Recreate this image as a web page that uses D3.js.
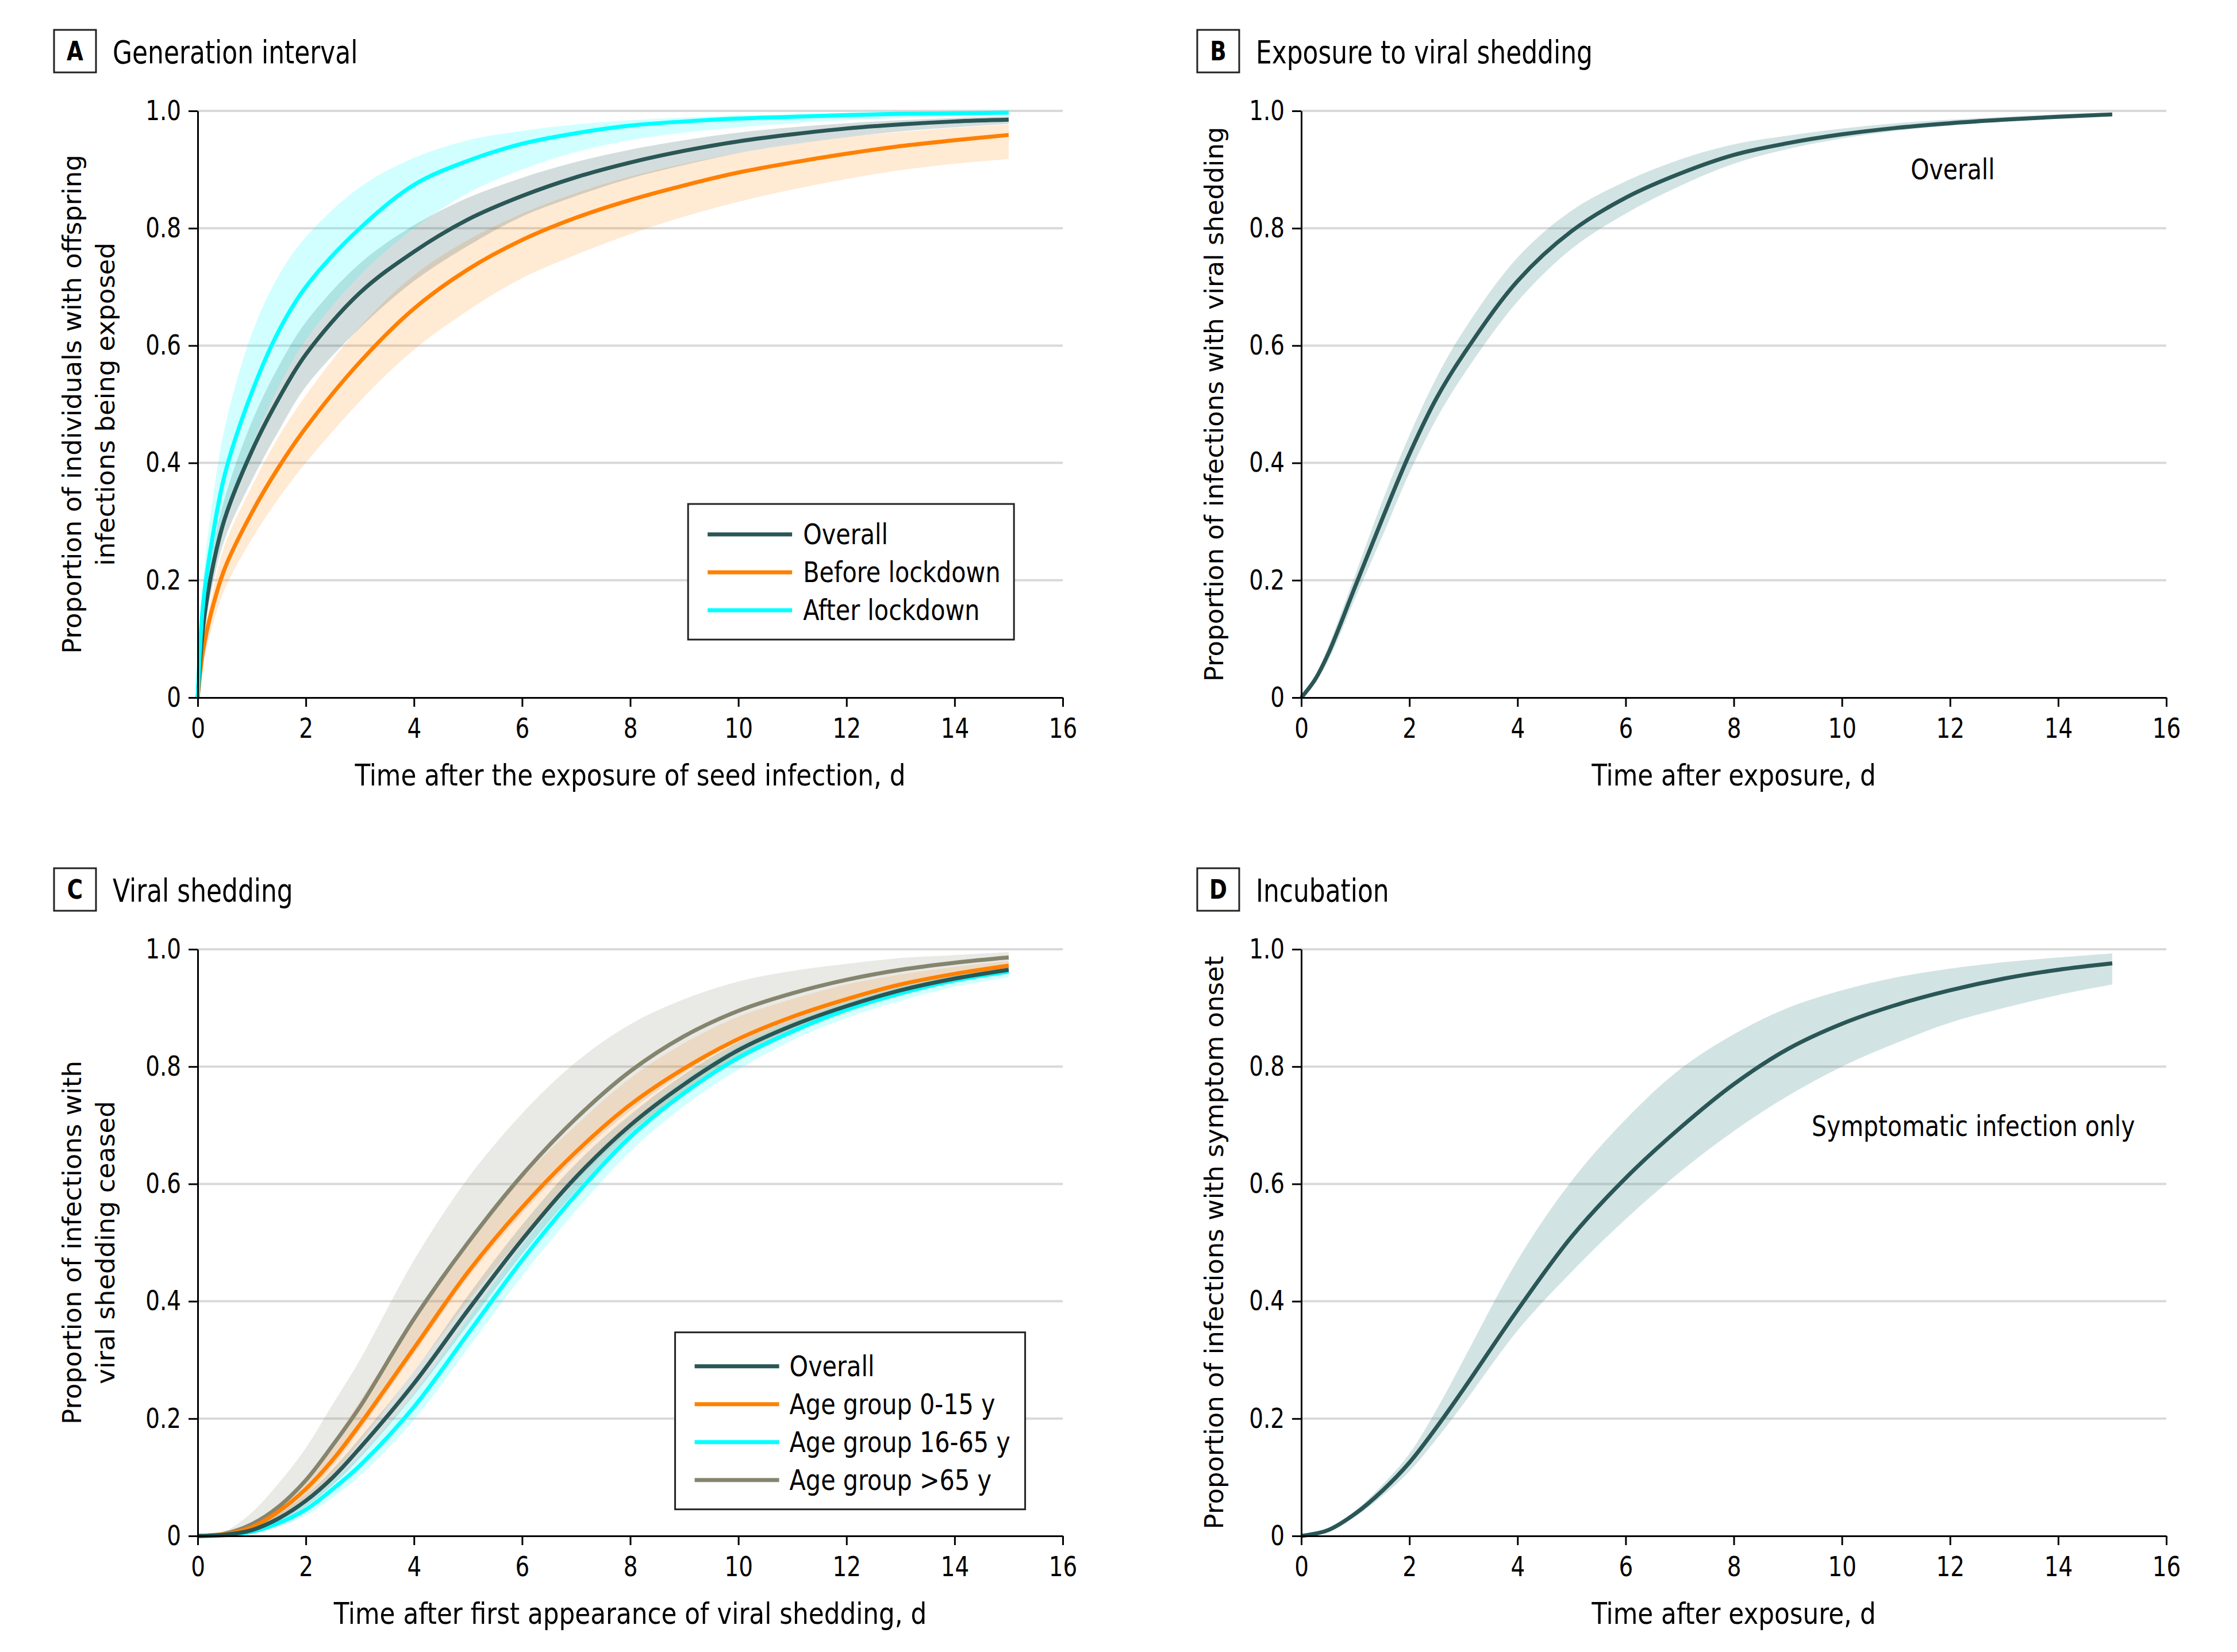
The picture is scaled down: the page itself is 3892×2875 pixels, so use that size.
<!DOCTYPE html>
<html><head><meta charset="utf-8">
<script src="https://cdn.jsdelivr.net/npm/d3@7"></script>
<style>body{margin:0;background:#fff}</style>
</head><body>
<script>
// ---------- DATA ----------
const xTicks = [0, 2, 4, 6, 8, 10, 12, 14, 16];
const yTicks = [0, 0.2, 0.4, 0.6, 0.8, 1.0];

// Panel A: Generation interval
const daysA = [0, 0.1, 0.25, 0.5, 1, 1.5, 2, 3, 4, 5, 6, 7, 8, 9, 10, 11, 12, 13, 14, 15];
const aOverall    = [0, 0.12, 0.21, 0.305, 0.42, 0.51, 0.585, 0.69, 0.76, 0.815, 0.855, 0.887, 0.912, 0.932, 0.948, 0.96, 0.97, 0.977, 0.982, 0.985];
const aOverallLo  = [0, 0.10, 0.18, 0.27, 0.37, 0.455, 0.53, 0.63, 0.71, 0.77, 0.82, 0.855, 0.885, 0.908, 0.928, 0.943, 0.955, 0.965, 0.972, 0.978];
const aOverallHi  = [0, 0.14, 0.24, 0.34, 0.47, 0.565, 0.64, 0.74, 0.805, 0.852, 0.886, 0.913, 0.934, 0.95, 0.963, 0.972, 0.979, 0.984, 0.988, 0.991];
const aBefore     = [0, 0.08, 0.145, 0.22, 0.315, 0.393, 0.46, 0.572, 0.663, 0.73, 0.78, 0.818, 0.848, 0.873, 0.895, 0.912, 0.927, 0.94, 0.95, 0.959];
const aBeforeLo   = [0, 0.06, 0.115, 0.185, 0.27, 0.34, 0.40, 0.505, 0.593, 0.66, 0.715, 0.755, 0.79, 0.82, 0.845, 0.866, 0.884, 0.899, 0.91, 0.918];
const aBeforeHi   = [0, 0.10, 0.17, 0.26, 0.36, 0.445, 0.515, 0.632, 0.72, 0.78, 0.825, 0.86, 0.888, 0.91, 0.928, 0.943, 0.955, 0.964, 0.971, 0.977];
const aAfter      = [0, 0.16, 0.26, 0.38, 0.52, 0.625, 0.70, 0.80, 0.874, 0.915, 0.944, 0.962, 0.975, 0.982, 0.987, 0.99, 0.993, 0.995, 0.996, 0.997];
const aAfterLo    = [0, 0.12, 0.20, 0.30, 0.43, 0.53, 0.61, 0.72, 0.80, 0.86, 0.90, 0.93, 0.95, 0.963, 0.972, 0.979, 0.984, 0.988, 0.991, 0.993];
const aAfterHi    = [0, 0.20, 0.32, 0.46, 0.62, 0.72, 0.785, 0.87, 0.92, 0.95, 0.966, 0.977, 0.984, 0.989, 0.992, 0.994, 0.996, 0.997, 0.998, 0.999];

// Panel B: Exposure to viral shedding
const daysB = [0, 0.25, 0.5, 1, 1.5, 2, 2.5, 3, 4, 5, 6, 7, 8, 9, 10, 11, 12, 13, 14, 15];
const bOverall   = [0, 0.03, 0.075, 0.19, 0.305, 0.415, 0.51, 0.585, 0.71, 0.795, 0.852, 0.893, 0.925, 0.945, 0.96, 0.971, 0.979, 0.985, 0.99, 0.994];
const bOverallLo = [0, 0.025, 0.063, 0.17, 0.275, 0.383, 0.475, 0.55, 0.675, 0.765, 0.825, 0.872, 0.91, 0.935, 0.953, 0.966, 0.975, 0.982, 0.987, 0.991];
const bOverallHi = [0, 0.035, 0.087, 0.21, 0.335, 0.447, 0.545, 0.625, 0.75, 0.83, 0.88, 0.917, 0.943, 0.958, 0.97, 0.979, 0.985, 0.99, 0.994, 0.997];

// Panel C: Viral shedding
const daysC = [0, 0.5, 1, 1.5, 2, 2.5, 3, 4, 5, 6, 7, 8, 9, 10, 11, 12, 13, 14, 15];
const cOverall   = [0, 0.002, 0.01, 0.03, 0.06, 0.10, 0.15, 0.26, 0.385, 0.505, 0.612, 0.70, 0.77, 0.828, 0.87, 0.903, 0.93, 0.95, 0.965];
const cOverallLo = [0, 0.001, 0.007, 0.024, 0.05, 0.087, 0.133, 0.24, 0.36, 0.48, 0.588, 0.68, 0.752, 0.813, 0.858, 0.893, 0.921, 0.943, 0.958];
const cOverallHi = [0, 0.003, 0.014, 0.037, 0.07, 0.114, 0.167, 0.28, 0.41, 0.53, 0.635, 0.718, 0.787, 0.842, 0.882, 0.913, 0.938, 0.956, 0.97];
const cAge0      = [0, 0.003, 0.015, 0.042, 0.08, 0.13, 0.19, 0.32, 0.45, 0.56, 0.655, 0.735, 0.797, 0.847, 0.885, 0.915, 0.94, 0.958, 0.972];
const cAge0Lo    = [0, 0.002, 0.01, 0.03, 0.06, 0.105, 0.16, 0.28, 0.40, 0.51, 0.605, 0.69, 0.755, 0.81, 0.855, 0.89, 0.92, 0.945, 0.962];
const cAge0Hi    = [0, 0.005, 0.022, 0.055, 0.10, 0.16, 0.23, 0.37, 0.50, 0.61, 0.70, 0.78, 0.84, 0.885, 0.915, 0.94, 0.957, 0.97, 0.98];
const cAge16     = [0, 0.001, 0.007, 0.022, 0.045, 0.08, 0.12, 0.22, 0.345, 0.47, 0.582, 0.68, 0.755, 0.815, 0.86, 0.897, 0.925, 0.947, 0.962];
const cAge16Lo   = [0, 0.0, 0.005, 0.016, 0.035, 0.066, 0.103, 0.198, 0.32, 0.443, 0.555, 0.655, 0.733, 0.795, 0.845, 0.883, 0.912, 0.936, 0.952];
const cAge16Hi   = [0, 0.002, 0.01, 0.028, 0.055, 0.094, 0.137, 0.243, 0.37, 0.495, 0.607, 0.703, 0.777, 0.835, 0.876, 0.91, 0.936, 0.956, 0.969];
const cAge65     = [0, 0.004, 0.02, 0.05, 0.095, 0.155, 0.22, 0.37, 0.50, 0.615, 0.712, 0.792, 0.852, 0.895, 0.925, 0.948, 0.965, 0.977, 0.986];
const cAge65Lo   = [0, 0.002, 0.012, 0.035, 0.07, 0.12, 0.18, 0.31, 0.44, 0.55, 0.645, 0.725, 0.79, 0.845, 0.885, 0.915, 0.94, 0.958, 0.972];
const cAge65Hi   = [0, 0.008, 0.04, 0.09, 0.15, 0.225, 0.30, 0.47, 0.61, 0.72, 0.808, 0.872, 0.915, 0.945, 0.963, 0.975, 0.985, 0.99, 0.995];

// Panel D: Incubation
const daysD = [0, 0.5, 1, 1.5, 2, 2.5, 3, 4, 5, 6, 7, 8, 9, 10, 11, 12, 13, 14, 15];
const dOverall   = [0, 0.01, 0.038, 0.077, 0.125, 0.185, 0.25, 0.385, 0.51, 0.61, 0.695, 0.77, 0.83, 0.873, 0.905, 0.93, 0.95, 0.965, 0.976];
const dOverallLo = [0, 0.008, 0.033, 0.068, 0.11, 0.165, 0.225, 0.35, 0.45, 0.54, 0.62, 0.69, 0.75, 0.80, 0.84, 0.875, 0.90, 0.922, 0.94];
const dOverallHi = [0, 0.012, 0.043, 0.087, 0.14, 0.215, 0.30, 0.47, 0.605, 0.71, 0.795, 0.855, 0.90, 0.93, 0.952, 0.967, 0.978, 0.986, 0.993];

const legendA = ["Overall", "Before lockdown", "After lockdown"];
const legendC = ["Overall", "Age group 0-15 y", "Age group 16-65 y", "Age group >65 y"];

// ---------- STYLE ----------
const TEAL = "#2a5656", ORANGE = "#ff8000", CYAN = "#00ffff", OLIVE = "#85856f";
const CF = '"DejaVu Sans Condensed", "DejaVu Sans", sans-serif';
const YF = '"DejaVu Sans", sans-serif';

const svg = d3.select("body").append("svg")
  .attr("width", 3892).attr("height", 2875)
  .style("background", "#fff");

function pts(days, vals) { return days.map((t, i) => ({ t, v: vals[i] })); }
function band(days, lo, hi) { return days.map((t, i) => ({ t, lo: lo[i], hi: hi[i] })); }

// narrow text helper: horizontally compressed condensed font
function ntext(parent, x, y, str, size, sx, anchor, weight) {
  return parent.append("text")
    .attr("transform", `translate(${x},${y}) scale(${sx},1)`)
    .attr("text-anchor", anchor || "start")
    .style("font-family", CF).style("font-size", size + "px")
    .style("font-weight", weight || "normal")
    .attr("fill", "#000")
    .text(str);
}

function panel(cfg) {
  const x = d3.scaleLinear().domain([0, 16]).range([cfg.left, cfg.left + 1505]);
  const y = d3.scaleLinear().domain([0, 1]).range([cfg.bottom, cfg.bottom - 1021]);
  const g = svg.append("g");

  // grid
  g.selectAll("line.grid").data(yTicks.filter(v => v > 0)).join("line")
    .attr("x1", x(0)).attr("x2", x(16))
    .attr("y1", d => y(d)).attr("y2", d => y(d))
    .attr("stroke", "#d9d9d9").attr("stroke-width", 4);

  const curve = d3.curveCatmullRom.alpha(0.5);
  // bands
  const area = d3.area().x(d => x(d.t)).y0(d => y(d.lo)).y1(d => y(d.hi)).curve(curve);
  cfg.bands.forEach(b => {
    g.append("path").datum(b.data).attr("d", area)
      .attr("fill", b.color).attr("fill-opacity", b.op).attr("stroke", "none");
  });

  // lines
  const line = d3.line().x(d => x(d.t)).y(d => y(d.v)).curve(curve);
  cfg.lines.forEach(l => {
    g.append("path").datum(l.data).attr("d", line)
      .attr("fill", "none").attr("stroke", l.color).attr("stroke-width", 7);
  });

  // axes
  const xa = g.append("g").attr("transform", `translate(0,${y(0)})`)
    .call(d3.axisBottom(x).tickValues(xTicks).tickSize(16).tickSizeOuter(0).tickPadding(20).tickFormat(d3.format("d")));
  const ya = g.append("g").attr("transform", `translate(${x(0)},0)`)
    .call(d3.axisLeft(y).tickValues(yTicks).tickSize(16).tickSizeOuter(0).tickPadding(13)
      .tickFormat(d => d === 0 ? "0" : d3.format(".1f")(d)));
  [xa, ya].forEach(a => {
    a.select(".domain").attr("stroke", "#000").attr("stroke-width", 3);
    a.selectAll(".tick line").attr("stroke", "#000").attr("stroke-width", 3);
    a.selectAll(".tick text").attr("fill", "#000").style("font-family", CF).style("font-size", "48px");
  });
  xa.selectAll(".tick text").attr("transform", "scale(0.9,1)");
  ya.selectAll(".tick text").attr("x", -29 / 0.9).attr("transform", "scale(0.9,1)");

  // x title
  ntext(g, (x(0) + x(16)) / 2, y(0) + 153, cfg.xTitle, 52, 0.935, "middle");

  // y title
  const cy = (y(0) + y(1)) / 2;
  cfg.yTitle.forEach((t, i) => {
    const bx = cfg.yTitleX[i];
    g.append("text").attr("transform", `translate(${bx},${cy}) rotate(-90)`)
      .attr("text-anchor", "middle").style("font-family", YF).style("font-size", "45px")
      .text(t);
  });

  // panel letter box + title
  const top = y(1);
  g.append("rect").attr("x", cfg.boxX).attr("y", top - 141).attr("width", 73).attr("height", 74)
    .attr("fill", "none").attr("stroke", "#222").attr("stroke-width", 3);
  ntext(g, cfg.boxX + 36.5, top - 88, cfg.letter, 46, 0.9, "middle", "bold");
  ntext(g, cfg.boxX + 102, top - 83, cfg.title, 56, 0.872, "start");

  // annotation
  if (cfg.note) ntext(g, x(cfg.note.t), y(cfg.note.v), cfg.note.text, 50, 0.91, "middle");

  // legend
  if (cfg.legend) {
    const L = cfg.legend;
    const lx = x(L.t), ly = y(L.v);
    const lg = g.append("g");
    lg.append("rect").attr("x", lx).attr("y", ly).attr("width", L.w).attr("height", L.h)
      .attr("fill", "#fff").attr("stroke", "#222").attr("stroke-width", 3);
    L.items.forEach((name, i) => {
      const yy = ly + L.first + i * 66;
      lg.append("line").attr("x1", lx + 34).attr("x2", lx + 181).attr("y1", yy).attr("y2", yy)
        .attr("stroke", L.colors[i]).attr("stroke-width", 7);
      ntext(lg, lx + L.tx, yy + 17, name, 50, 0.92, "start");
    });
  }
}

panel({
  left: 344, bottom: 1214, letter: "A", title: "Generation interval", boxX: 94,
  xTitle: "Time after the exposure of seed infection, d",
  yTitle: ["Proportion of individuals with offspring", "infections being exposed"], yTitleX: [141, 199],
  bands: [
    { data: band(daysA, aBeforeLo, aBeforeHi), color: ORANGE, op: 0.17 },
    { data: band(daysA, aOverallLo, aOverallHi), color: TEAL, op: 0.2 },
    { data: band(daysA, aAfterLo, aAfterHi), color: CYAN, op: 0.18 }
  ],
  lines: [
    { data: pts(daysA, aBefore), color: ORANGE },
    { data: pts(daysA, aOverall), color: TEAL },
    { data: pts(daysA, aAfter), color: CYAN }
  ],
  legend: { t: 9.07, v: 0.33, w: 567, h: 236, first: 53, tx: 200, items: legendA, colors: [TEAL, ORANGE, CYAN] }
});

panel({
  left: 2264, bottom: 1214, letter: "B", title: "Exposure to viral shedding", boxX: 2083,
  xTitle: "Time after exposure, d",
  yTitle: ["Proportion of infections with viral shedding"], yTitleX: [2128],
  bands: [ { data: band(daysB, bOverallLo, bOverallHi), color: "#5c9c9a", op: 0.28 } ],
  lines: [ { data: pts(daysB, bOverall), color: TEAL } ],
  note: { t: 12.05, v: 0.883, text: "Overall" }
});

panel({
  left: 344, bottom: 2673, letter: "C", title: "Viral shedding", boxX: 94,
  xTitle: "Time after first appearance of viral shedding, d",
  yTitle: ["Proportion of infections with", "viral shedding ceased"], yTitleX: [141, 199],
  bands: [
    { data: band(daysC, cAge65Lo, cAge65Hi), color: OLIVE, op: 0.18 },
    { data: band(daysC, cAge0Lo, cAge0Hi), color: ORANGE, op: 0.15 },
    { data: band(daysC, cOverallLo, cOverallHi), color: TEAL, op: 0.18 },
    { data: band(daysC, cAge16Lo, cAge16Hi), color: CYAN, op: 0.18 }
  ],
  lines: [
    { data: pts(daysC, cAge65), color: OLIVE },
    { data: pts(daysC, cAge0), color: ORANGE },
    { data: pts(daysC, cAge16), color: CYAN },
    { data: pts(daysC, cOverall), color: TEAL }
  ],
  legend: { t: 8.83, v: 0.347, w: 609, h: 308, first: 59, tx: 199, items: legendC, colors: [TEAL, ORANGE, CYAN, OLIVE] }
});

panel({
  left: 2264, bottom: 2673, letter: "D", title: "Incubation", boxX: 2083,
  xTitle: "Time after exposure, d",
  yTitle: ["Proportion of infections with symptom onset"], yTitleX: [2128],
  bands: [ { data: band(daysD, dOverallLo, dOverallHi), color: "#5c9c9a", op: 0.28 } ],
  lines: [ { data: pts(daysD, dOverall), color: TEAL } ],
  note: { t: 12.43, v: 0.682, text: "Symptomatic infection only" }
});
</script>
</body></html>
